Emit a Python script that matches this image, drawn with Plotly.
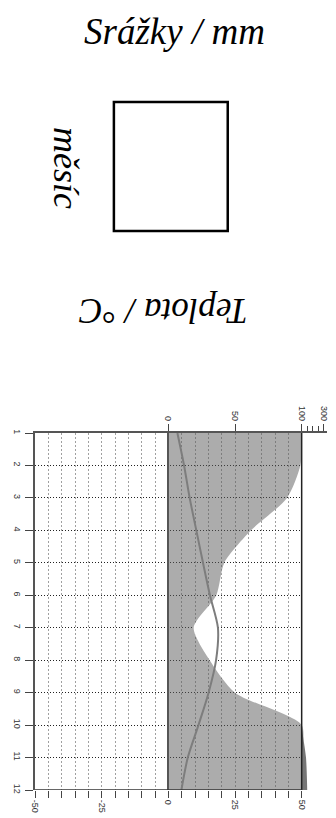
import plotly.graph_objects as go

# klimadiagram (otočený o 90°): měsíce svisle, teplota vodorovně
mesice = list(range(1, 13))
teplota = [3.4, 5.9, 8.0, 10.5, 13.0, 15.6, 18.6, 17.9, 15.1, 11.3, 7.3, 4.9]
srazky = [100, 99, 89, 62, 42, 36, 19, 31, 50, 100, 139, 150]

teplota_ticks = list(range(-50, 51, 5))
teplota_labels = [str(t) if t % 25 == 0 else "" for t in teplota_ticks]
srazky_ticks = [0, 50, 100, 300]
srazky_minor = [150, 200, 250]


def srazky_na_osu(p):
    # 2 mm = 1 °C, nad 100 mm zhuštěné měřítko
    if p <= 100:
        return p / 2
    return 50 + (p - 100) / 24


# plot area in page pixels; the page body adds an 8px offset
OFS = 8
L, R, T, B = 35, 327.4, 433, 790
X_MAX = 59.5


def xp(px):
    return (px - L) / (R - L)


def yp(py):
    return (B - py) / (B - T)


sr_low = [srazky_na_osu(min(p, 100)) for p in srazky]
sr_high = [srazky_na_osu(max(p, 100)) for p in srazky]
limit = [srazky_na_osu(100)] * len(srazky)
sucho = [max(t, s) for t, s in zip(teplota, sr_low)]

fig = go.Figure()

common = dict(mode='lines', hoverinfo='skip', showlegend=False)
hladko = dict(shape='spline', smoothing=0.7)

# arid period (white lens between precipitation and temperature)
fig.add_trace(go.Scatter(x=sr_low, y=mesice, line=dict(width=0, **hladko), **common))
fig.add_trace(go.Scatter(x=sucho, y=mesice, line=dict(width=0, **hladko), fill='tonextx',
                         fillcolor='white', **common))
# precipitation up to 100 mm
fig.add_trace(go.Scatter(x=sr_low, y=mesice, line=dict(width=0, **hladko), fill='tozerox',
                         fillcolor='rgba(90,90,90,0.5)', **common))
# precipitation above 100 mm
fig.add_trace(go.Scatter(x=limit, y=mesice, line=dict(width=0), **common))
fig.add_trace(go.Scatter(x=sr_high, y=mesice, line=dict(width=0, **hladko), fill='tonextx',
                         fillcolor='rgba(60,60,60,0.7)', **common))
# temperature (drawn on the top axis, same scale)
fig.add_trace(go.Scatter(x=teplota, y=mesice, xaxis='x2',
                         line=dict(width=2, color='#7d7d7d', shape='spline', smoothing=0.8),
                         **common))

tickfont = dict(family='Liberation Sans', size=9, color='#333')

fig.update_layout(
    width=336 - OFS, height=818 - OFS,
    margin=dict(l=L - OFS, r=336 - R, t=T - OFS, b=818 - B, autoexpand=False),
    paper_bgcolor='white', plot_bgcolor='white',
    xaxis=dict(range=[-50, X_MAX], tickmode='array', tickvals=teplota_ticks,
               ticktext=teplota_labels, ticks='outside', ticklen=7, tickcolor='#444',
               tickangle=90, tickfont=tickfont, showline=False, automargin=False,
               showgrid=True, gridcolor='#a0a0a0', griddash='2px,2px', gridwidth=1,
               zeroline=True, zerolinecolor='#555', zerolinewidth=1.5),
    xaxis2=dict(range=[-50, X_MAX], overlaying='x', side='top', anchor='y',
                tickmode='array', tickvals=[srazky_na_osu(p) for p in srazky_ticks],
                ticktext=[str(p) for p in srazky_ticks], ticks='outside', ticklen=7,
                tickcolor='#444', tickangle=90, tickfont=tickfont, automargin=False,
                minor=dict(tickvals=[srazky_na_osu(p) for p in srazky_minor],
                           ticks='outside', ticklen=5, tickcolor='#444'),
                showline=True, linecolor='#555', linewidth=1.5,
                showgrid=False, zeroline=False),
    yaxis=dict(range=[12, 1], tickmode='array', tickvals=mesice, ticks='outside',
               ticklen=8, tickcolor='#444', tickangle=90, tickfont=tickfont,
               showline=True, linecolor='#555', linewidth=1.5, automargin=False,
               showgrid=True, gridcolor='#222', griddash='1px,2px', gridwidth=1,
               zeroline=False),
    shapes=[
        dict(type='rect', xref='paper', yref='paper', x0=xp(114), x1=xp(228),
             y0=yp(231), y1=yp(102), line=dict(color='black', width=2.5)),
        dict(type='line', xref='x', yref='y', x0=50, x1=50, y0=1, y1=12,
             line=dict(color='#222', width=1.5), layer='above'),
        dict(type='line', xref='x', yref='y', x0=-50, x1=50, y0=12, y1=12,
             line=dict(color='#333', width=1.5), layer='above'),
        dict(type='rect', xref='x', yref='y', x0=50, x1=X_MAX, y0=1, y1=12,
             fillcolor='white', line=dict(width=0), layer='between'),
    ],
    annotations=[
        dict(text='Srážky / mm', x=xp(175), y=yp(31), xref='paper', yref='paper',
             showarrow=False, xanchor='center', yanchor='middle',
             font=dict(family='Liberation Serif', size=37, style='italic', color='black')),
        dict(text='měsíc', x=xp(66), y=yp(168), xref='paper', yref='paper',
             showarrow=False, xanchor='center', yanchor='middle', textangle=90,
             font=dict(family='Liberation Serif', size=36, style='italic', color='black')),
        dict(text='Teplota / °C', x=xp(163), y=yp(311), xref='paper', yref='paper',
             showarrow=False, xanchor='center', yanchor='middle', textangle=180,
             font=dict(family='Liberation Serif', size=35, style='italic', color='black')),
    ],
)

fig.write_html("out.html")
